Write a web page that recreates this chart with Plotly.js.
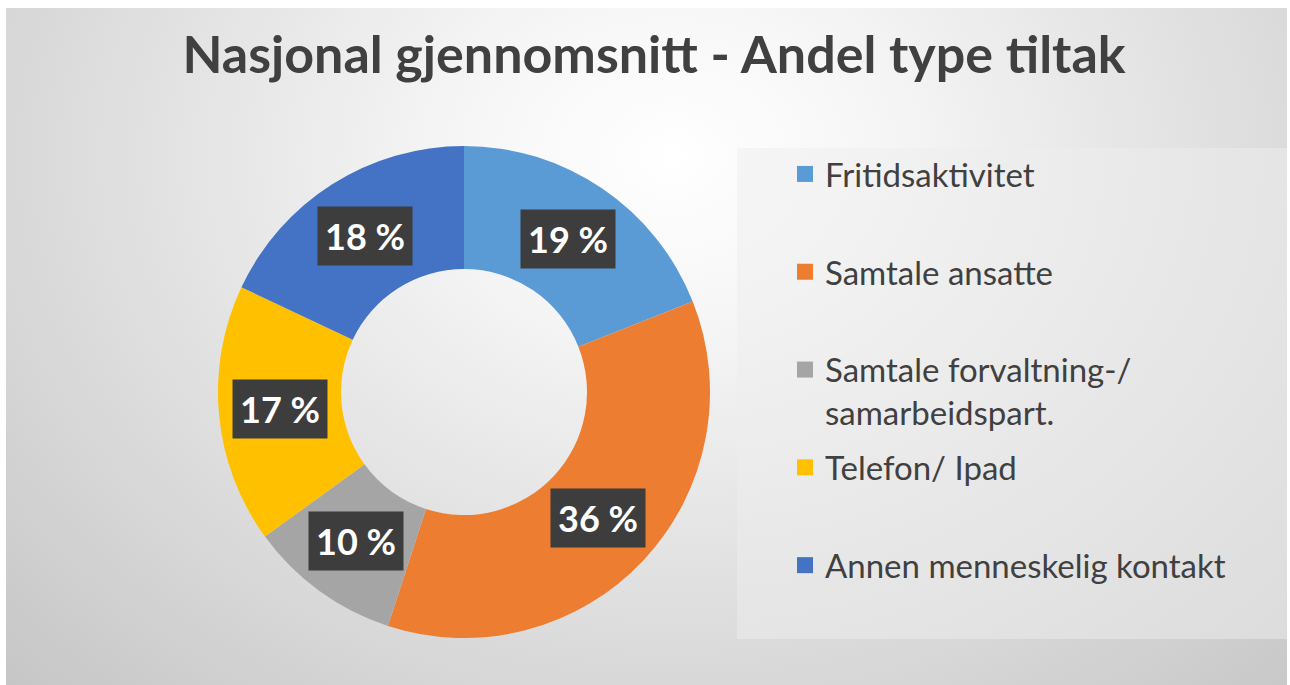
<!DOCTYPE html>
<html>
<head>
<meta charset="utf-8">
<script src="https://cdn.plot.ly/plotly-3.0.1.min.js"></script>
<style>
  html, body { margin: 0; padding: 0; background: #ffffff; }
  #frame {
    position: absolute; left: 6px; top: 8px; width: 1281px; height: 677px;
    background: radial-gradient(ellipse farthest-corner at 52% 22%, #ffffff 0%, #f6f6f6 22%, #c6c6c6 100%);
  }
  #chart { position: absolute; left: 0; top: 0; width: 1290px; height: 685px; }
</style>
</head>
<body>
<div id="frame"></div>
<div id="chart"></div>
<script>
// Nasjonal gjennomsnitt - andel type tiltak (prosent)
const categories = [
  "Fritidsaktivitet",
  "Samtale ansatte",
  "Samtale forvaltning-/<br>samarbeidspart.",
  "Telefon/ Ipad",
  "Annen menneskelig kontakt"
];
const shares = [19, 36, 10, 17, 18];
const sliceColors = ["#5B9BD5", "#ED7D31", "#A5A5A5", "#FFC000", "#4472C4"];

const W = 1290, H = 685;
const FONT = "Lato, 'Open Sans', sans-serif";
const TXT = "#404040";

// donut placement (pixels)
const cx = 464, cy = 392, R = 246, hole = 0.5;

const pie = {
  type: "pie",
  values: shares,
  labels: categories,
  sort: false,
  direction: "clockwise",
  rotation: 0,
  hole: hole,
  marker: { colors: sliceColors, line: { width: 0 } },
  textinfo: "none",
  hoverinfo: "skip",
  showlegend: false,
  domain: { x: [(cx - R) / W, (cx + R) / W], y: [(H - cy - R) / H, (H - cy + R) / H] }
};

// legend entries (dummy traces so spacing can be controlled)
const legendTraces = categories.map((name, i) => ({
  type: "scatter",
  mode: "markers",
  x: [null], y: [null],
  name: name.includes("<br>") ? name : name + "<br> ",
  legendgroup: "g" + i,
  marker: { symbol: "square", size: 16, color: sliceColors[i] },
  hoverinfo: "skip"
}));

// percentage labels in dark boxes at mid-ring
const total = shares.reduce((a, b) => a + b, 0);
let acc = 0;
const labelAnnotations = shares.map(v => {
  const mid = (acc + v / 2) / total * 2 * Math.PI;
  acc += v;
  const r = R * (1 + hole) / 2;
  const px = cx + r * Math.sin(mid);
  const py = cy - r * Math.cos(mid);
  return {
    xref: "paper", yref: "paper",
    x: px / W, y: (H - py) / H,
    xanchor: "center", yanchor: "middle",
    text: v + " %",
    showarrow: false,
    font: { family: FONT, size: 36, color: "#ffffff", weight: "bold" },
    bgcolor: "#3d3d3d",
    borderpad: 7
  };
});

const layout = {
  width: W, height: H,
  margin: { l: 0, r: 0, t: 0, b: 0 },
  paper_bgcolor: "rgba(0,0,0,0)",
  plot_bgcolor: "rgba(0,0,0,0)",
  title: {
    text: "<b>Nasjonal gjennomsnitt - Andel type tiltak</b>",
    x: 654 / W, xanchor: "center",
    y: (H - 55) / H, yanchor: "middle",
    font: { family: FONT, size: 52, color: TXT }
  },
  xaxis: { visible: false },
  yaxis: { visible: false },
  showlegend: true,
  legend: {
    x: 785 / W, xanchor: "left",
    y: (H - 146) / H, yanchor: "top",
    bgcolor: "rgba(0,0,0,0)",
    font: { family: FONT, size: 33, color: TXT },
    valign: "top",
    tracegroupgap: 9,
    itemclick: false, itemdoubleclick: false
  },
  shapes: [{
    type: "rect", xref: "paper", yref: "paper", layer: "below",
    x0: 737 / W, x1: 1287 / W, y0: (H - 639) / H, y1: (H - 148) / H,
    fillcolor: "rgba(238,238,238,0.5)", line: { width: 0 }
  }],
  annotations: labelAnnotations
};

Plotly.newPlot("chart", [pie, ...legendTraces], layout, { displayModeBar: false, staticPlot: true });
</script>
</body>
</html>
